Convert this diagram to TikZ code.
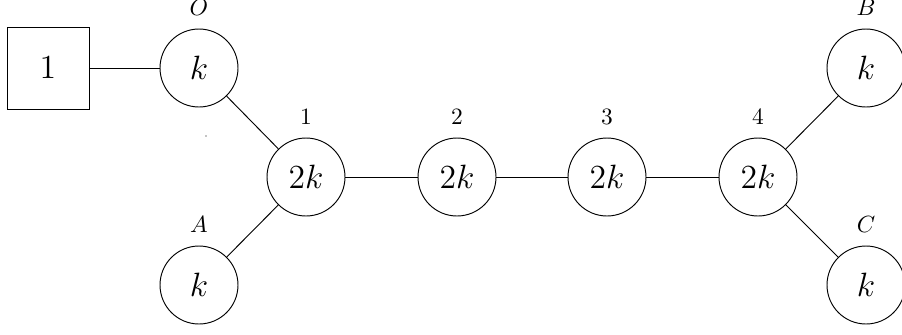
\documentclass[tikz,border=0pt]{standalone}
\begin{document}
\begin{tikzpicture}[x=0.427pt,y=-0.427pt,
  gnode/.style={circle,draw,minimum size=33.3pt,inner sep=0pt,font=\Large},
  fnode/.style={rectangle,draw,minimum size=35pt,inner sep=0pt,font=\Large},
  every label/.style={label distance=2pt,font=\normalsize}]
\useasboundingbox (0,0) rectangle (902,334);
\node[fnode] (F) at (48,68) {$1$};
\node[gnode,label={above:$O$}] (O) at (199,68) {$k$};
\node[gnode,label={above:$1$}] (n1) at (306,177) {$2k$};
\node[gnode,label={above:$2$}] (n2) at (457,177) {$2k$};
\node[gnode,label={above:$3$}] (n3) at (607,177) {$2k$};
\node[gnode,label={above:$4$}] (n4) at (758,177) {$2k$};
\node[gnode,label={above:$A$}] (A) at (199,285) {$k$};
\node[gnode,label={above:$B$}] (B) at (866,68) {$k$};
\node[gnode,label={above:$C$}] (C) at (866,285) {$k$};
\fill (206,136) circle (0.6);
\draw (F) -- (O);
\draw (O) -- (n1);
\draw (A) -- (n1);
\draw (n1) -- (n2);
\draw (n2) -- (n3);
\draw (n3) -- (n4);
\draw (n4) -- (B);
\draw (n4) -- (C);
\end{tikzpicture}
\end{document}
